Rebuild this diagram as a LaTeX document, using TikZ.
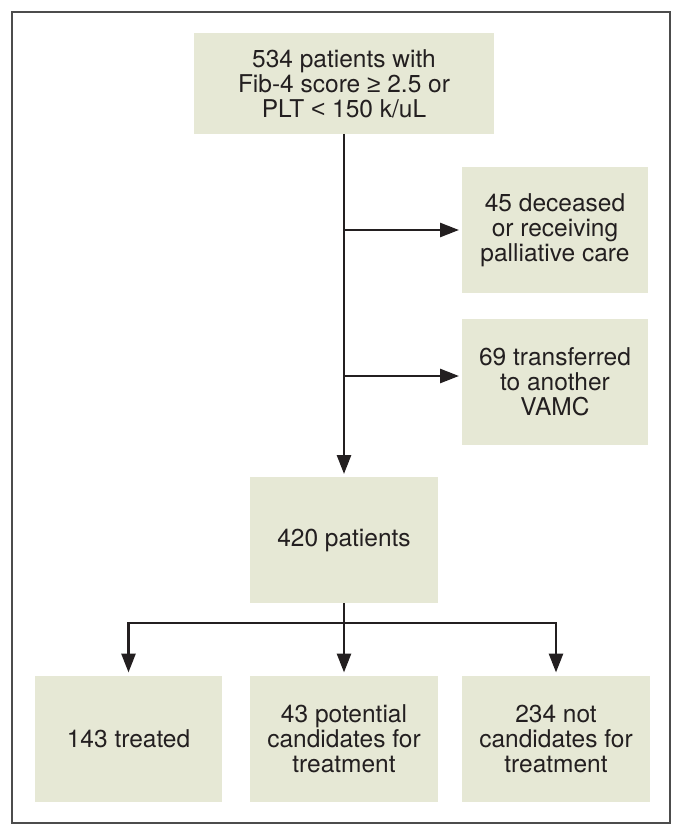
\documentclass[tikz,border=0pt]{standalone}
\usepackage{fontspec}
\setmainfont{TeX Gyre Heros}
\newfontfamily\symsans{Liberation Sans}
\usetikzlibrary{arrows.meta}

\definecolor{boxfill}{RGB}{230,232,213}
\definecolor{framegray}{gray}{0.3}
\definecolor{inkgray}{RGB}{35,31,32}

\begin{document}
\begin{tikzpicture}[x=1pt,y=-1pt,
  box/.style={fill=boxfill, align=center, inner sep=0pt, outer sep=0pt,
    minimum width=188, minimum height=126,
    font=\fontsize{24.5}{25}\selectfont, text=inkgray},
  link/.style={line width=2.8pt, inkgray},
  arr/.style={link, -{Triangle[length=19pt,width=14pt]}, shorten >=3pt}]

\useasboundingbox (0,0) rectangle (683,837);

% frame
\draw[framegray, line width=1.5pt] (12,12) rectangle (670,823);

% main column
\node[box, minimum width=300, minimum height=101] (start) at (344,83.5)
  {534 patients with\\Fib-4 score {\symsans ≥} 2.5 or\\PLT {\symsans <} 150 k/uL};
\node[box] (remain) at (344,540) {420 patients};

% excluded
\node[box, minimum width=186] (deceased) at (555,230)
  {45 deceased\\or receiving\\palliative care};
\node[box, minimum width=186] (transfer) at (555,382)
  {69 transferred\\to another\\VAMC};

% outcomes
\node[box, minimum width=187] (treated) at (128.5,738.5) {143 treated};
\node[box] (potential) at (344,738.5) {43 potential\\candidates for\\treatment};
\node[box] (notcand) at (556,738.5) {234 not\\candidates for\\treatment};

% connectors
\draw[arr] (start.south) -- (remain.north);
\draw[arr] (start.south |- deceased.west) -- (deceased.west);
\draw[arr] (start.south |- transfer.west) ++(0,-6) -- ++(118,0);

\coordinate (split) at (344,623);
\draw[arr] (remain.south) -- (potential.north);
\draw[arr] (split) -| (treated.north);
\draw[arr] (split) -| (notcand.north);

\end{tikzpicture}
\end{document}
